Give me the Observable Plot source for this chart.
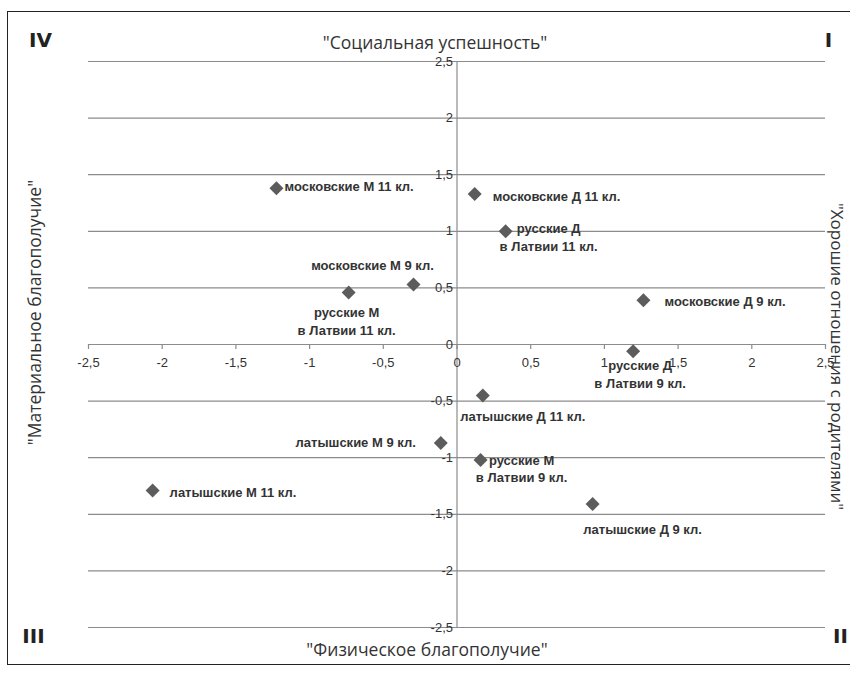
<!DOCTYPE html>
<html>
<head>
<meta charset="utf-8">
<script src="https://cdn.jsdelivr.net/npm/d3@7"></script>
<script src="https://cdn.jsdelivr.net/npm/@observablehq/plot@0.6"></script>
<style>
  html, body { margin: 0; padding: 0; background: #fff; }
  #wrap { position: relative; width: 850px; height: 676px; overflow: hidden; }
  #border { position: absolute; left: 7px; top: 11px; width: 860px; height: 652px;
            border-left: 1.5px solid #222; border-top: 1.5px solid #222; border-bottom: 1.5px solid #222; }
  #chart { position: absolute; left: 0; top: 0; }
</style>
</head>
<body>
<div id="wrap"><div id="border"></div><div id="chart"></div></div>
<script>
// Data
const groups = [
  "московские М 11 кл.",
  "московские Д 11 кл.",
  "русские Д\nв Латвии 11 кл.",
  "московские М 9 кл.",
  "русские М\nв Латвии 11 кл.",
  "московские Д 9 кл.",
  "русские Д\nв Латвии 9 кл.",
  "латышские Д 11 кл.",
  "латышские М 9 кл.",
  "русские М\nв Латвии 9 кл.",
  "латышские М 11 кл.",
  "латышские Д 9 кл."
];
const physical = [-1.225, 0.12, 0.33, -0.295, -0.735, 1.265, 1.195, 0.175, -0.11, 0.16, -2.065, 0.92];
const material = [1.38, 1.33, 1.00, 0.53, 0.46, 0.39, -0.06, -0.45, -0.87, -1.02, -1.29, -1.41];

const xTicks = [-2.5, -2, -1.5, -1, -0.5, 0, 0.5, 1, 1.5, 2, 2.5];
const yTicks = [-2.5, -2, -1.5, -1, -0.5, 0, 0.5, 1, 1.5, 2, 2.5];

const titleTop = "\"Социальная успешность\"";
const titleBottom = "\"Физическое благополучие\"";
const titleLeft = "\"Материальное благополучие\"";
const titleRight = "\"Хорошие отношения с родителями\"";
const quadrants = ["I", "II", "III", "IV"];

// label placement (layout only): [dx, dy, anchor]
const labelPlacement = [
  [8, -3, "start"], [18, 1, "start"], [43, 5, "middle"], [-41, -20, "middle"],
  [-2, 28, "middle"], [21, 0, "start"], [7, 22, "middle"], [40, 20, "middle"],
  [-25, -2, "end"], [41, 8, "middle"], [17, 1, "start"], [50, 24, "middle"]
];

const points = groups.map((g, i) => ({
  name: g, x: physical[i], y: material[i],
  dx: labelPlacement[i][0], dy: labelPlacement[i][1], anchor: labelPlacement[i][2]
}));

const fmt = d => String(d).replace(".", ",");
const grid = "#8c8c8c";
const narrow = "'Liberation Sans Narrow', 'Liberation Sans', Arial, sans-serif";
const regular = "'Liberation Sans', Arial, sans-serif";
const titleFont = "'Open Sans', 'Liberation Sans', sans-serif";
const txt = "#333";

const pointLabels = points.map(p =>
  Plot.text([p], {
    x: "x", y: "y", text: "name", textAnchor: p.anchor, lineAnchor: "middle",
    dx: p.dx, dy: p.dy, fill: txt, fontWeight: "bold", fontSize: 13, lineHeight: 1.35,
    fontFamily: narrow
  })
);

const roman = (t, anchor, dx, dy) => Plot.text([t], {
  text: d => d, frameAnchor: anchor, textAnchor: "middle", lineAnchor: "middle",
  dx, dy, fontSize: 20, fontWeight: "bold", fill: "#222", fontFamily: "'DejaVu Sans', sans-serif"
});

const chart = Plot.plot({
  width: 850,
  height: 676,
  marginLeft: 88,
  marginRight: 25,
  marginTop: 61,
  marginBottom: 49,
  style: { fontFamily: regular, background: "transparent", overflow: "visible" },
  x: { domain: [-2.5, 2.5], axis: null },
  y: { domain: [-2.5, 2.5], axis: null },
  marks: [
    Plot.ruleY(yTicks, { y: d => d, stroke: grid, strokeWidth: 1.2 }),
    Plot.ruleX([0], { x: d => d, stroke: grid, strokeWidth: 1.2 }),
    Plot.ruleX(xTicks, { x: d => d, y1: 0, y2: 0, insetBottom: -5, stroke: grid, strokeWidth: 1.2 }),
    Plot.text(xTicks, { x: d => d, y: 0, dy: 18, text: fmt, fill: txt, fontSize: 13, fontFamily: regular }),
    Plot.text(yTicks, { x: 0, y: d => d, dx: -4, text: fmt, textAnchor: "end", fill: txt, fontSize: 13, fontFamily: regular }),
    Plot.dot(points, { x: "x", y: "y", symbol: "diamond2", r: 6.3, fill: "#5c5c5c", stroke: "none" }),
    ...pointLabels,
    Plot.text([titleTop], { text: d => d, frameAnchor: "top", textAnchor: "middle", lineAnchor: "middle", dx: -22, dy: -18, fontSize: 17.5, fill: txt, fontFamily: titleFont }),
    Plot.text([titleBottom], { text: d => d, frameAnchor: "bottom", textAnchor: "middle", lineAnchor: "middle", dx: -30, dy: 23, fontSize: 17.5, fill: txt, fontFamily: titleFont }),
    Plot.text([titleLeft], { text: d => d, frameAnchor: "left", textAnchor: "middle", lineAnchor: "middle", rotate: -90, dx: -53, dy: -32, fontSize: 17.5, fill: txt, fontFamily: titleFont }),
    Plot.text([titleRight], { text: d => d, frameAnchor: "right", textAnchor: "middle", lineAnchor: "middle", rotate: 90, dx: 11, dy: 12, fontSize: 17, fill: txt, fontFamily: titleFont }),
    roman(quadrants[3], "top-left", -48, -21),
    roman(quadrants[0], "top-right", 3, -21),
    roman(quadrants[2], "bottom-left", -55, 9),
    roman(quadrants[1], "bottom-right", 15, 9)
  ]
});
document.getElementById("chart").appendChild(chart);
</script>
</body>
</html>
